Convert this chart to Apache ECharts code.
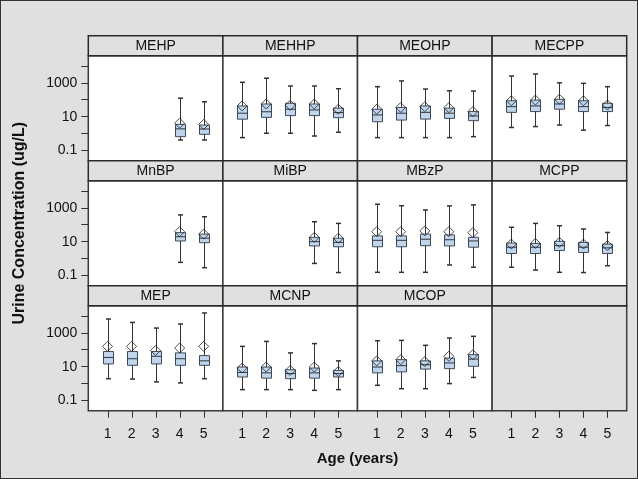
<!DOCTYPE html>
<html>
<head>
<meta charset="utf-8">
<script src="https://cdn.jsdelivr.net/npm/echarts@6/dist/echarts.min.js"></script>
<style>
html,body{margin:0;padding:0;background:#e0e0e0;}
#wrap{position:relative;width:638px;height:479px;}
#chart{width:638px;height:479px;}
#frame{position:absolute;left:0;top:0;width:638px;height:479px;box-sizing:border-box;border:1px solid #333;pointer-events:none;}
</style>
</head>
<body>
<div id="wrap"><div id="chart"></div><div id="frame"></div></div>
<script>
// ---- Data (ug/L) ----
const panels = ['MEHP','MEHHP','MEOHP','MECPP','MnBP','MiBP','MBzP','MCPP','MEP','MCNP','MCOP'];
const ages = [1,2,3,4,5];
// each entry: [age, lowWhisker, Q1, median, Q3, highWhisker]
const MEHP  = [[4,0.42,0.66,1.9,3.5,123],[5,0.42,0.91,1.86,3.2,76]];
const MEHHP = [[1,0.58,7.1,16,43,1070],[2,1.05,9.1,19.5,56,1860],[3,1.05,11.5,27.5,62,645],[4,0.72,11.5,25,56,645],[5,1.2,8.7,17.4,32,447]];
const MEOHP = [[1,0.58,5,12.6,27.5,590],[2,0.58,6.3,16,35,1290],[3,0.58,7.2,18,43,427],[4,0.58,7.9,16,32,339],[5,0.66,5.8,11,20,324]];
const MECPP = [[1,2.3,18,39,87,2500],[2,2.6,20,43,95,3300],[3,3.2,27.5,56,107,1000],[4,1.6,20,39,87,930],[5,3.0,20,35,62,590]];
const MnBP  = [[4,0.6,11,19.5,34,380],[5,0.29,8.7,16,28,295]];
const MiBP  = [[4,0.52,5.6,10,18,150],[5,0.15,5,9.1,16,120]];
const MBzP  = [[1,0.155,5,12,22,1620],[2,0.155,5,12,22,1320],[3,0.155,5.8,14,28,740],[4,0.42,5.6,13,25,1290],[5,0.31,4.7,11,18,1480]];
const MCPP  = [[1,0.31,2.0,4.7,8.3,71],[2,0.21,2.0,4.7,7.9,120],[3,0.155,3.0,5.8,10.5,87],[4,0.15,2.3,4.7,9.1,56],[5,0.38,2.0,4.3,7.2,35]];
const MEP   = [[1,1.95,14.5,35,79,6500],[2,1.86,12,29.5,79,4100],[3,1.26,14.5,41,79,1900],[4,1.1,12,29.5,65,3300],[5,1.95,12,22,45,14800]];
const MCNP  = [[1,0.44,2.45,4.6,9.5,158],[2,0.44,2.1,4.3,9.5,310],[3,0.44,1.95,3.9,6.6,65],[4,0.4,2.1,4.3,8.3,230],[5,0.44,2.45,3.9,6,22]];
const MCOP  = [[1,0.79,4.3,9.5,22,340],[2,0.5,4.9,11.5,26,355],[3,0.5,7.2,13,22,182],[4,1.0,7.6,16.6,32,490],[5,2.3,10.5,28,51,620]];
// means (diamonds): [age, mean]
const MEHP_mean  = [[4,4.1],[5,3.5]];
const MEHHP_mean = [[1,43],[2,56],[3,47],[4,56],[5,27.5]];
const MEOHP_mean = [[1,27.5],[2,35],[3,39],[4,34],[5,20]];
const MECPP_mean = [[1,87],[2,95],[3,107],[4,87],[5,49]];
const MnBP_mean  = [[4,39],[5,28]];
const MiBP_mean  = [[4,18],[5,16]];
const MBzP_mean  = [[1,39],[2,39],[3,43],[4,39],[5,34]];
const MCPP_mean  = [[1,7.2],[2,7.9],[3,9.1],[4,7.2],[5,5.8]];
const MEP_mean   = [[1,158],[2,158],[3,91],[4,126],[5,158]];
const MCNP_mean  = [[1,8.3],[2,9.5],[3,6],[4,9.5],[5,5.2]];
const MCOP_mean  = [[1,22],[2,26],[3,20],[4,41],[5,51]];
const boxData  = [MEHP,MEHHP,MEOHP,MECPP,MnBP,MiBP,MBzP,MCPP,MEP,MCNP,MCOP];
const meanData = [MEHP_mean,MEHHP_mean,MEOHP_mean,MECPP_mean,MnBP_mean,MiBP_mean,MBzP_mean,MCPP_mean,MEP_mean,MCNP_mean,MCOP_mean];
const yTickValues  = [0.1,1,10,100,1000,10000];
const yLabelValues = [0.1,10,1000];
const yLabelText   = ['0.1','10','1000'];
const yTitle = 'Urine Concentration (ug/L)';
const xTitle = 'Age (years)';

// ---- Layout ----
const FONT = '"Liberation Sans", Arial, sans-serif';
const L0 = 88.3, COLW = 134.6, T0 = 55.7, ROWH = 125, PLOTH = 105, STRIPH = 20;
const NC = 4, NR = 3;
const YMIN = -1.6, YMAX = 4.6, XMIN = 0.2, XMAX = 5.8;
const lg = v => Math.log10(v);
const BORDER = '#3a3a3a';

const grids = [], xAxes = [], yAxes = [], series = [], graphics = [];
for (let i = 0; i < NC*NR; i++) {
  const r = Math.floor(i / NC), c = i % NC;
  const left = L0 + c*COLW, top = T0 + r*ROWH;
  const hasData = i < panels.length;
  grids.push({left: left, top: top, width: COLW, height: PLOTH, show: true,
    backgroundColor: hasData ? '#ffffff' : '#e0e0e0', borderColor: BORDER, borderWidth: 1.5});
  const showX = r === NR-1;
  xAxes.push({gridIndex: i, type: 'value', min: XMIN, max: XMAX,
    axisLine: {show: false, onZero: false}, splitLine: {show: false},
    axisTick: {show: false},
    axisLabel: {show: showX, margin: 16, color: '#111', fontSize: 14, fontFamily: FONT, customValues: ages}});
  const showY = c === 0;
  yAxes.push({gridIndex: i, type: 'value', min: YMIN, max: YMAX,
    axisLine: {show: false, onZero: false}, splitLine: {show: false},
    axisTick: {show: showY, length: 7, lineStyle: {color: '#333', width: 1}, customValues: yTickValues.map(lg)},
    axisLabel: {show: showY, margin: 11, color: '#111', fontSize: 14, fontFamily: FONT,
      customValues: yLabelValues.map(lg),
      formatter: v => { const k = yLabelValues.findIndex(t => Math.abs(lg(t) - v) < 1e-6); return k >= 0 ? yLabelText[k] : ''; }}});
  // x ticks for the bottom row, placed through the axis scale
  if (showX) {
    series.push({type: 'custom', xAxisIndex: i, yAxisIndex: i, clip: false, silent: true,
      data: ages.map(a => [a, YMIN]),
      encode: {x: 0, y: 1},
      renderItem: function (params, api) {
        const p = api.coord([api.value(0), api.value(1)]);
        const x = Math.round(p[0]) + 0.5;
        return {type: 'line', shape: {x1: x, y1: p[1], x2: x, y2: p[1] + 7}, style: {stroke: '#333', lineWidth: 1}};
      }, z: 20});
    if (!hasData) {
      series.push({type: 'scatter', xAxisIndex: i, yAxisIndex: i, clip: false, silent: true,
        data: ages.map(a => [a, YMIN]),
        symbol: 'rect', symbolSize: [1, 7], symbolOffset: [0, 3.5],
        itemStyle: {color: '#333'}, z: 20});
    }
  }
  // strip
  graphics.push({type: 'rect', shape: {x: left, y: top - STRIPH, width: COLW, height: STRIPH},
    style: {fill: '#e0e0e0', stroke: '#2a2a2a', lineWidth: 1.5}, z: 10});
  if (hasData) {
    graphics.push({type: 'text', x: left + COLW/2, y: top - STRIPH/2 + 0.5,
      style: {text: panels[i], fill: '#111', font: '14px ' + FONT, textAlign: 'center', textVerticalAlign: 'middle'}, z: 11});
    series.push({type: 'custom', xAxisIndex: i, yAxisIndex: i,
      data: boxData[i].map(d => [d[0], lg(d[1]), lg(d[2]), lg(d[3]), lg(d[4]), lg(d[5])]),
      encode: {x: 0, y: [1,2,3,4,5]},
      renderItem: function (params, api) {
        const x = api.value(0);
        const pLo = api.coord([x, api.value(1)]);
        const pQ1 = api.coord([x, api.value(2)]);
        const pMd = api.coord([x, api.value(3)]);
        const pQ3 = api.coord([x, api.value(4)]);
        const pHi = api.coord([x, api.value(5)]);
        const bw = 10, cw = 5, cx = Math.round(pLo[0]) + 0.5;
        const ls = {stroke: '#333', lineWidth: 1};
        return {type: 'group', children: [
          {type: 'line', shape: {x1: cx, y1: pLo[1], x2: cx, y2: pHi[1]}, style: ls},
          {type: 'line', shape: {x1: cx - cw/2, y1: pLo[1], x2: cx + cw/2, y2: pLo[1]}, style: {stroke: '#333', lineWidth: 1.5}},
          {type: 'line', shape: {x1: cx - cw/2, y1: pHi[1], x2: cx + cw/2, y2: pHi[1]}, style: {stroke: '#333', lineWidth: 1.5}},
          {type: 'rect', shape: {x: cx - bw/2, y: pQ3[1], width: bw, height: pQ1[1] - pQ3[1]},
            style: {fill: '#bdd6ee', stroke: '#3f4a58', lineWidth: 1}},
          {type: 'line', shape: {x1: cx - bw/2, y1: pMd[1], x2: cx + bw/2, y2: pMd[1]}, style: {stroke: '#333', lineWidth: 1}}
        ]};
      }, z: 2});
    series.push({type: 'scatter', xAxisIndex: i, yAxisIndex: i,
      data: meanData[i].map(d => [d[0], lg(d[1])]),
      symbol: 'diamond', symbolSize: [10, 10],
      itemStyle: {color: 'rgba(0,0,0,0)', borderColor: '#222', borderWidth: 1},
      z: 3});
  }
}
graphics.push({type: 'text', x: 20, y: T0 - STRIPH + (NR*ROWH)/2, rotation: Math.PI/2,
  style: {text: yTitle, fill: '#111', font: 'bold 16px ' + FONT, textAlign: 'center', textVerticalAlign: 'middle'}});
graphics.push({type: 'text', x: L0 + NC*COLW/2, y: 459,
  style: {text: xTitle, fill: '#111', font: 'bold 15px ' + FONT, textAlign: 'center', textVerticalAlign: 'middle'}});

const chart = echarts.init(document.getElementById('chart'), null, {renderer: 'canvas'});
chart.setOption({
  animation: false,
  backgroundColor: '#e0e0e0',
  grid: grids, xAxis: xAxes, yAxis: yAxes, series: series, graphic: graphics
});
</script>
</body>
</html>
